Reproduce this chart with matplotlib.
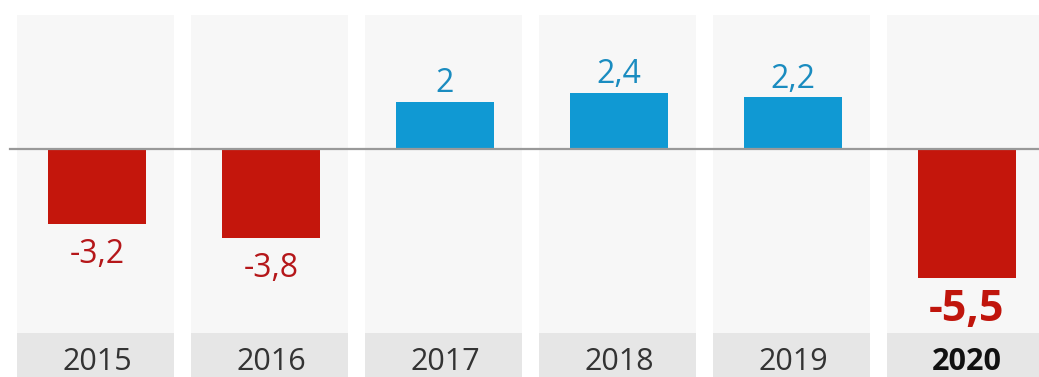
import matplotlib
matplotlib.use("Agg")
import matplotlib.pyplot as plt
import numpy as np

years = ["2015", "2016", "2017", "2018", "2019", "2020"]
values = [-3.2, -3.8, 2.0, 2.4, 2.2, -5.5]
labels = ["-3,2", "-3,8", "2", "2,4", "2,2", "-5,5"]

plt.rcParams['font.family'] = ['Open Sans', 'DejaVu Sans']

red = "#c4160c"
blue = "#1099d3"
red_txt = "#b5171a"
blue_txt = "#1a8cc0"

fig = plt.figure(figsize=(10.39, 3.77), dpi=100)
ax = fig.add_axes([0, 0, 1, 1])
x = np.arange(len(years))

# pixel scale: 174 px per category, 23.5 px per unit, baseline 149 px from top
ax.set_xlim(-97 / 174, (1039 - 97) / 174)
ax.set_ylim(-(377 - 149) / 23.5, 149 / 23.5)
ax.axis("off")

# background panels and year strip
panel_top = (149 - 15) / 23.5
strip_top = -(333 - 149) / 23.5
ax.bar(x - 0.01, panel_top - strip_top, bottom=strip_top, width=0.9, color="#f7f7f7", zorder=0)
ax.bar(x - 0.01, strip_top + 10, bottom=-10, width=0.9, color="#e6e6e6", zorder=0)

ax.axhline(0, xmin=10 / 1039, color="#999999", lw=1.6, zorder=2)

cols = [red if v < 0 else blue for v in values]
ax.bar(x, values, width=0.563, color=cols, zorder=1)

for i, (v, lab) in enumerate(zip(values, labels)):
    last = i == len(values) - 1
    if v < 0:
        ax.annotate(lab, (i, v), xytext=(0, -31 if last else -28), textcoords="offset points",
                    ha="center", va="baseline", color="#c0150c" if last else red_txt,
                    fontsize=31 if last else 23, fontweight="bold" if last else "normal")
    else:
        ax.annotate(lab, (i, v), xytext=(0, 7), textcoords="offset points",
                    ha="center", va="baseline", color=blue_txt, fontsize=23)
    ax.text(i, -(370 - 149) / 23.5, years[i], ha="center", va="baseline",
            fontsize=22, color="#111111" if last else "#333333",
            fontweight="bold" if last else "normal")

fig.savefig("out.png", dpi=100)
